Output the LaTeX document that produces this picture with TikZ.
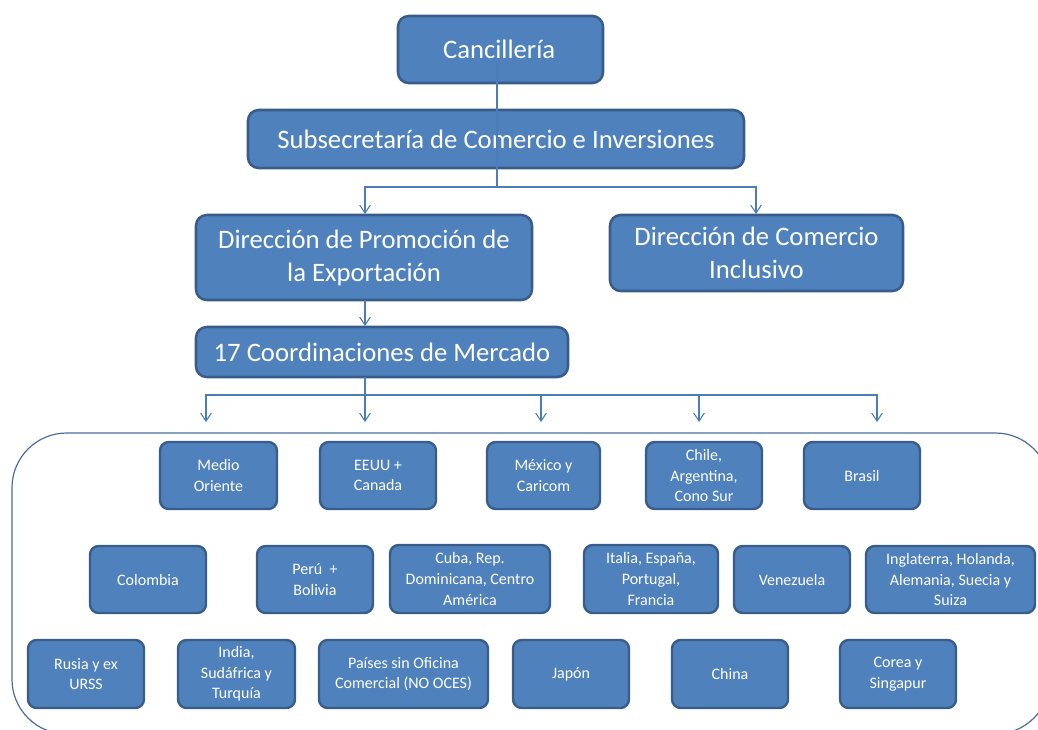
\documentclass[tikz,border=0pt]{standalone}
\usepackage{fontspec}
\setmainfont{Carlito}
\usetikzlibrary{arrows.meta,fit,calc}
\definecolor{boxfill}{HTML}{4F81BD}
\definecolor{boxline}{HTML}{385D8A}
\definecolor{conn}{HTML}{4A7EBB}
\definecolor{cont}{HTML}{4A6E9E}
\tikzset{
  bigbox/.style={draw=boxline, fill=boxfill, line width=1.9pt, rounded corners=8pt, inner sep=0pt},
  smallbox/.style={draw=boxline, fill=boxfill, line width=1.8pt, rounded corners=6.5pt, inner sep=0pt},
  bigtext/.style={inner sep=0pt, align=center, text=white, font=\fontsize{20}{24.75}\selectfont},
  smalltext/.style={inner sep=0pt, align=center, text=white, font=\fontsize{12}{15.5}\selectfont},
  link/.style={draw=conn, line width=0.8pt},
  arr/.style={link, -{Straight Barb[length=6pt,width=8pt,line width=0.8pt]}}
}
\newcommand\bigb[4]{\node[bigbox, fit={#2}] (#1) {}; \node[bigtext] (#1-t) at ([xshift=#3]#1.center) {#4};}
\newcommand\smallb[4]{\node[smallbox, fit={#2}] (#1) {}; \node[smalltext] (#1-t) at ([xshift=#3]#1.center) {#4};}
\begin{document}
\begin{tikzpicture}[x=0.75pt,y=-0.75pt]
\useasboundingbox (0,0) rectangle (1038,729);
\begin{scope}
\clip (0,0) rectangle (1038,729);
\draw[cont, line width=0.9pt, rounded corners=41pt] (12,433) rectangle (1050,734);
\end{scope}
% top boxes
\bigb{canc}{(398,16)(603,83)}{-1pt}{Cancillería}
\bigb{sub}{(248,110)(744,168)}{0pt}{Subsecretaría de Comercio e Inversiones}
\bigb{dpe}{(196,215)(532,300)}{0pt}{Dirección de Promoción de\\la Exportación}
\bigb{dci}{(610,215)(903,291)}{0pt}{Dirección de Comercio\\Inclusivo}
\bigb{coord}{(196,327)(568,377)}{0pt}{17 Coordinaciones de Mercado}
% row 1
\smallb{mo}{(160,442)(277,509)}{0pt}{Medio\\Oriente}
\smallb{eeuu}{(320,442)(436,509)}{0pt}{EEUU +\\Canada}
\smallb{mex}{(487,442)(600,509)}{0pt}{México y\\Caricom}
\smallb{chi}{(646,442)(762,509)}{0pt}{Chile,\\Argentina,\\Cono Sur}
\smallb{bra}{(804,442)(920,509)}{0pt}{Brasil}
% row 2
\smallb{col}{(90,546)(206,613)}{0pt}{Colombia}
\smallb{per}{(257,546)(373,613)}{0pt}{Perú\ \ +\\Bolivia}
\smallb{cub}{(390,545)(550,613)}{0pt}{Cuba, Rep.\\Dominicana, Centro\\América}
\smallb{ita}{(584,545)(718,613)}{0pt}{Italia, España,\\Portugal,\\Francia}
\smallb{ven}{(734,546)(850,613)}{0pt}{Venezuela}
\smallb{ing}{(866,546)(1035,613)}{0pt}{Inglaterra, Holanda,\\Alemania, Suecia y\\Suiza}
% row 3
\smallb{rus}{(28,640)(144,708)}{0pt}{Rusia y ex\\URSS}
\smallb{ind}{(178,640)(295,708)}{0pt}{India,\\Sudáfrica y\\Turquía}
\smallb{pai}{(319,640)(488,708)}{0pt}{Países sin Oficina\\Comercial (NO OCES)}
\smallb{jap}{(513,640)(629,708)}{0pt}{Japón}
\smallb{chn}{(672,640)(788,708)}{0pt}{China}
\smallb{cor}{(840,640)(956,708)}{0pt}{Corea y\\Singapur}
% connectors
\coordinate (s0) at (497,63);
\coordinate (j1) at (497,187);
\coordinate (d1) at (365,214);
\coordinate (d2) at (756,214);
\draw[link] (s0) -- (j1);
\draw[arr] (j1) -| (d1);
\draw[arr] (j1) -| (d2);
\coordinate (u1) at (365,300);
\coordinate (u2) at (365,326);
\draw[arr] (u1) -- (u2);
\coordinate (j2) at (365,395);
\coordinate (u3) at (365,377);
\draw[link] (u3) -- (j2);
\coordinate (t1) at (206,422);
\coordinate (t2) at (365,422);
\coordinate (t3) at (541,422);
\coordinate (t4) at (699,422);
\coordinate (t5) at (877,422);
\draw[arr] (j2) -| (t1);
\draw[arr] (j2) -- (t2);
\draw[arr] (j2) -| (t3);
\draw[arr] (j2) -| (t4);
\draw[arr] (j2) -| (t5);
\end{tikzpicture}
\end{document}
